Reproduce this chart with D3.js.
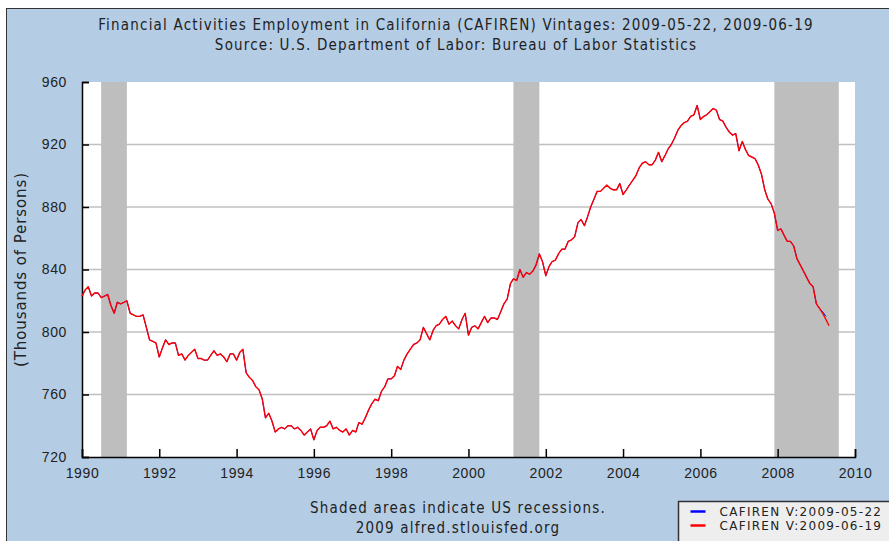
<!DOCTYPE html>
<html>
<head>
<meta charset="utf-8">
<script src="https://cdn.jsdelivr.net/npm/d3@7"></script>
<style>
  body { margin: 0; background: #fff; }
  svg text { fill: #222; }
</style>
</head>
<body>
<div id="chart"></div>
<script>
// Monthly values, thousands of persons, vintage 2009-06-19 (Jan 1990 - May 2009)
const startMonth = "1990-01";
const vintageJune = [
  823, 827, 829, 823, 825, 825, 822, 823, 824, 817, 812, 819, // 1990
  818, 819, 820, 812, 811, 810, 810, 811, 803, 795, 794, 793, // 1991
  784, 790, 795, 792, 793, 793, 785, 786, 782, 785, 787, 789, // 1992
  783, 783, 782, 782, 785, 788, 785, 786, 784, 781, 786, 786, // 1993
  782, 787, 789, 774, 771, 769, 765, 763, 757, 745, 748, 743, // 1994
  736, 738, 739, 738, 740, 740, 738, 739, 737, 734, 736, 738, // 1995
  731, 737, 739, 739, 740, 743, 738, 739, 737, 736, 738, 734, // 1996
  737, 736, 742, 741, 745, 750, 754, 757, 756, 762, 765, 770, // 1997
  770, 772, 778, 776, 782, 786, 789, 792, 793, 795, 803, 799, // 1998
  795, 801, 804, 805, 808, 810, 805, 807, 804, 802, 808, 812, // 1999
  798, 803, 804, 802, 806, 810, 806, 809, 809, 808, 813, 818, // 2000
  821, 831, 834, 833, 840, 835, 838, 837, 839, 843, 850, 845, // 2001
  836, 842, 845, 846, 850, 853, 853, 858, 859, 861, 870, 872, // 2002
  868, 874, 880, 885, 890, 890, 892, 894, 892, 891, 891, 895, // 2003
  888, 891, 894, 897, 900, 905, 908, 909, 907, 907, 910, 915, // 2004
  909, 913, 917, 920, 924, 929, 932, 934, 935, 938, 939, 945, // 2005
  936, 938, 939, 941, 943, 942, 936, 935, 931, 928, 926, 927, // 2006
  916, 922, 917, 913, 912, 911, 907, 901, 891, 885, 882, 876, // 2007
  865, 866, 862, 858, 858, 855, 847, 843, 839, 835, 831, 829, // 2008
  818, 815, 812, 808, 804                                     // 2009
];
// vintage 2009-05-22 is the same up to Jan 2009, then Feb - Apr 2009
const vintageMayTail = [815, 813, 810];

const recessions = [["1990-07", "1991-03"], ["2001-03", "2001-11"], ["2007-12", "2009-08"]];
const yTicks = [720, 760, 800, 840, 880, 920, 960];

const titleLines = [
  "Financial Activities Employment in California (CAFIREN) Vintages: 2009-05-22, 2009-06-19",
  "Source: U.S. Department of Labor: Bureau of Labor Statistics"
];
const footerLines = ["Shaded areas indicate US recessions.", "2009 alfred.stlouisfed.org"];
const legendLabels = ["CAFIREN V:2009-05-22", "CAFIREN V:2009-06-19"];
const seriesColors = ["#0000ff", "#ff0000"];
const seriesWidths = [1, 1.4];

//Define constants
const width = 889;
const height = 541;
const margin = { left: 82, right: 34, top: 82, bottom: 84 };
const parseMonth = d3.timeParse("%Y-%m");

function monthlySeries(values) {
  const start = parseMonth(startMonth);
  return values.map((v, i) => ({ date: d3.timeMonth.offset(start, i), value: v }));
}

const seriesMay = monthlySeries(vintageJune.slice(0, 229).concat(vintageMayTail));
const seriesJune = monthlySeries(vintageJune);

const svg = d3.select("#chart")
  .append("svg")
  .attr("width", width)
  .attr("height", height)
  .style("font-family", "'DejaVu Sans', Verdana, sans-serif");

// outer background
svg.append("rect")
  .attr("x", 6.5).attr("y", 8.5)
  .attr("width", width).attr("height", height)
  .attr("fill", "#b4cce4")
  .attr("stroke", "#333");

const x = d3.scaleTime()
  .domain([parseMonth("1990-01"), parseMonth("2010-01")])
  .range([margin.left, width - margin.right]);

const y = d3.scaleLinear()
  .domain([720, 960])
  .range([height - margin.bottom, margin.top]);

// plot area
svg.append("rect")
  .attr("x", margin.left).attr("y", margin.top)
  .attr("width", width - margin.left - margin.right)
  .attr("height", height - margin.top - margin.bottom)
  .attr("fill", "#fff");

// gridlines
svg.append("g")
  .selectAll("line")
  .data(yTicks.slice(1, -1))
  .enter().append("line")
  .attr("x1", margin.left).attr("x2", width - margin.right)
  .attr("y1", d => y(d)).attr("y2", d => y(d))
  .attr("stroke", "#c0c0c0")
  .attr("stroke-width", 1.5);

// recession bars
svg.append("g")
  .selectAll("rect")
  .data(recessions)
  .enter().append("rect")
  .attr("x", d => x(parseMonth(d[0])))
  .attr("width", d => x(parseMonth(d[1])) - x(parseMonth(d[0])))
  .attr("y", margin.top)
  .attr("height", height - margin.top - margin.bottom)
  .attr("fill", "#bebebe");

// axes
const yAxis = d3.axisLeft(y)
  .tickValues(yTicks)
  .tickSize(-7)
  .tickPadding(15);

const xAxis = d3.axisBottom(x)
  .ticks(d3.timeYear.every(2))
  .tickFormat(d3.timeFormat("%Y"))
  .tickSize(-8)
  .tickPadding(11);

const gy = svg.append("g")
  .attr("transform", `translate(${margin.left},0)`)
  .call(yAxis);

const gx = svg.append("g")
  .attr("transform", `translate(0,${height - margin.bottom})`)
  .call(xAxis);

[gx, gy].forEach(g => {
  g.select(".domain").attr("stroke", "#000").attr("stroke-width", 1.5);
  g.selectAll(".tick line").attr("stroke", "#000").attr("stroke-width", 1.5);
  g.selectAll(".tick text")
    .attr("fill", "#222")
    .style("font-size", "14px")
    .style("letter-spacing", "0.6px");
});

// lines
const line = d3.line()
  .x(d => x(d.date))
  .y(d => y(d.value));

[seriesMay, seriesJune].forEach((s, i) => {
  svg.append("path")
    .datum(s)
    .attr("d", line)
    .attr("fill", "none")
    .attr("stroke", seriesColors[i])
    .attr("stroke-width", seriesWidths[i])
    .attr("stroke-linejoin", "round");
});

// titles
svg.append("g")
  .selectAll("text")
  .data(titleLines)
  .enter().append("text")
  .attr("x", 456)
  .attr("y", (d, i) => 30 + i * 20)
  .attr("text-anchor", "middle")
  .style("font-family", "'DejaVu Sans Condensed', 'DejaVu Sans', sans-serif")
  .style("font-size", "15px")
  .style("letter-spacing", "1.2px")
  .text(d => d);

// y axis label
svg.append("text")
  .attr("transform", `translate(26,${(margin.top + height - margin.bottom) / 2}) rotate(-90)`)
  .attr("text-anchor", "middle")
  .style("font-size", "15px")
  .style("letter-spacing", "0.9px")
  .text("(Thousands of Persons)");

// footer
svg.append("g")
  .selectAll("text")
  .data(footerLines)
  .enter().append("text")
  .attr("x", 458)
  .attr("y", (d, i) => 513 + i * 20)
  .attr("text-anchor", "middle")
  .style("font-family", "'DejaVu Sans Condensed', 'DejaVu Sans', sans-serif")
  .style("font-size", "15px")
  .style("letter-spacing", "1.2px")
  .text(d => d);

// legend
const legend = svg.append("g").attr("transform", "translate(678.5,501.5)");
legend.append("rect")
  .attr("width", 240).attr("height", 60)
  .attr("fill", "#eeeeee")
  .attr("stroke", "#333")
  .attr("stroke-width", 1.5);

const item = legend.selectAll(".item")
  .data(legendLabels)
  .enter().append("g")
  .attr("class", "item")
  .attr("transform", (d, i) => `translate(0,${10 + i * 14})`);

item.append("line")
  .attr("x1", 12).attr("x2", 27)
  .attr("stroke", (d, i) => seriesColors[i])
  .attr("stroke-width", 2.5);

item.append("text")
  .attr("x", 41)
  .attr("dy", "0.35em")
  .style("font-size", "12px")
  .style("letter-spacing", "1.3px")
  .text(d => d);
</script>
</body>
</html>
